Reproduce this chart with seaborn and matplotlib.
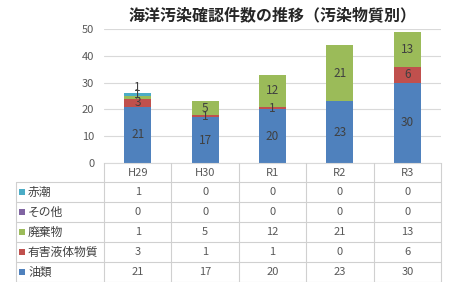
import matplotlib
matplotlib.use("Agg")
import matplotlib.pyplot as plt
import seaborn as sns
import numpy as np
import pandas as pd

categories = ["H29", "H30", "R1", "R2", "R3"]
oil = [21, 17, 20, 23, 30]          # 油類
harmful = [3, 1, 1, 0, 6]           # 有害液体物質
waste = [1, 5, 12, 21, 13]          # 廃棄物
other = [0, 0, 0, 0, 0]             # その他
redtide = [1, 0, 0, 0, 0]           # 赤潮

series_names = ["油類", "有害液体物質", "廃棄物", "その他", "赤潮"]
series_values = [oil, harmful, waste, other, redtide]
colors = ["#4F81BD", "#C0504D", "#9BBB59", "#8064A2", "#4BACC6"]
title = "海洋汚染確認件数の推移（汚染物質別）"

sns.set_theme(style="white")
plt.rcParams['font.family'] = ['Noto Sans CJK JP', 'DejaVu Sans']

W, H = 465, 282
fig = plt.figure(figsize=(W / 100, H / 100), dpi=100)

# pixel layout
px_left, px_right, px_top, px_bottom = 104, 441, 29, 163
ax = fig.add_axes([px_left / W, 1 - px_bottom / H,
                   (px_right - px_left) / W, (px_bottom - px_top) / H])

df = pd.DataFrame({"cat": categories})
bottom = np.zeros(len(categories))
last_label = np.full(len(categories), -10.0)
for name, vals, col in zip(series_names, series_values, colors):
    df["v"] = vals
    sns.barplot(data=df, x="cat", y="v", color=col, width=0.4, bottom=bottom,
                ax=ax, saturation=1, edgecolor="none", linewidth=0)
    for i, v in enumerate(vals):
        if v > 0:
            y = bottom[i] + v / 2
            if y < last_label[i] + 2.9:
                y = last_label[i] + 2.9
            last_label[i] = y
            ax.text(i, y, str(v), ha="center", va="center",
                    fontsize=8.5, color="#404040")
    bottom = bottom + np.array(vals)

ax.set_ylim(0, 50)
ax.set_xlim(-0.5, len(categories) - 0.5)
ax.set_yticks(range(0, 51, 10))
ax.tick_params(axis="y", length=0, labelsize=8, colors="#595959", pad=7)
ax.set_xticks([])
ax.set_xlabel("")
ax.set_ylabel("")
ax.yaxis.grid(True, color="#D9D9D9", linewidth=0.8)
ax.set_axisbelow(True)
for s in ["top", "right", "left"]:
    ax.spines[s].set_visible(False)
ax.spines["bottom"].set_color("#D9D9D9")
ax.spines["bottom"].set_linewidth(0.8)

fig.text(0.5 * (px_left + px_right) / W, 1 - 15 / H, title,
         ha="center", va="center", fontsize=11.5, fontweight="bold",
         color="#262626")

# data table overlay in pixel coords
ov = fig.add_axes([0, 0, 1, 1])
ov.set_xlim(0, W)
ov.set_ylim(H, 0)
ov.axis("off")
line_c = "#D0D0D0"
col_w = (px_right - px_left) / len(categories)
row_h = 20
table_left = 16
header_bottom = 182
n_rows = len(series_names)
table_bottom = header_bottom + n_rows * row_h

for j in range(len(categories) + 1):
    x = px_left + j * col_w
    ov.plot([x, x], [px_bottom, table_bottom], color=line_c, lw=0.8)
ov.plot([table_left, table_left], [header_bottom, table_bottom], color=line_c, lw=0.8)
for r in range(n_rows + 1):
    y = header_bottom + r * row_h
    ov.plot([table_left, px_right], [y, y], color=line_c, lw=0.8)

for j, c in enumerate(categories):
    ov.text(px_left + (j + 0.5) * col_w, (px_bottom + header_bottom) / 2 + 0.5, c,
            ha="center", va="center", fontsize=8, color="#595959")

for r, idx in enumerate(reversed(range(n_rows))):
    yc = header_bottom + (r + 0.5) * row_h
    ov.add_patch(plt.Rectangle((table_left + 3, yc - 3), 6, 6,
                               color=colors[idx], lw=0))
    ov.text(table_left + 12, yc, series_names[idx], ha="left", va="center",
            fontsize=8.5, color="#404040")
    for j, v in enumerate(series_values[idx]):
        ov.text(px_left + (j + 0.5) * col_w, yc, str(v), ha="center",
                va="center", fontsize=8, color="#595959")

fig.savefig("out.png", dpi=100)
